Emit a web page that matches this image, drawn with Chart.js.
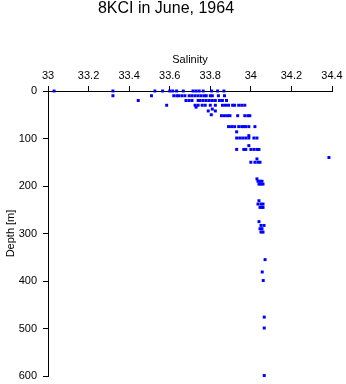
<!DOCTYPE html>
<html>
<head>
<meta charset="utf-8">
<script src="https://cdn.jsdelivr.net/npm/chart.js@4"></script>
<style>
  body { margin: 0; background: #fff; }
  #wrap { width: 346px; height: 384px; }
</style>
</head>
<body>
<div id="wrap"><canvas id="profile-chart"></canvas></div>
<script>
const TITLE = "8KCI in June, 1964";
const X_LABEL = "Salinity";
const Y_LABEL = "Depth [m]";

// Salinity ticks and depth ticks.
const salinityTicks = [33, 33.2, 33.4, 33.6, 33.8, 34, 34.2, 34.4];
const depthTicks = [0, 100, 200, 300, 400, 500, 600];

// Samples, row by row (depth in m, salinity).
const depths = [
    0, 0, 0, 0, 0, 0, 0, 0, 0, 0, 0, 0, 0, 0, 0,
    10, 10, 10, 10, 10, 10, 10, 10, 10, 10, 10, 10, 10, 10, 10, 10, 10, 10,
    20, 20, 20, 20, 20, 20, 20, 20, 20, 20, 20, 20, 20, 20,
    30, 30, 30, 30, 30, 30, 30, 30, 30, 30, 30, 30, 30, 30, 30, 34,
    38, 42, 42, 50,
    52, 52, 52, 52, 52, 52, 52, 52,
    75, 75, 75, 75, 75, 75, 75, 75, 75,
    86, 94,
    99, 99, 99, 99, 99, 99, 99,
    115,
    123, 123, 123, 123, 123, 123, 123,
    140, 143,
    150, 150, 150, 150,
    185, 190, 190, 190, 196, 196, 196,
    231, 238, 238, 238, 245, 245, 245,
    275, 283, 283, 290, 290, 297, 297,
    355, 381, 399, 476, 499, 599
];
const salinity = [
    33.03, 33.32, 33.527, 33.565, 33.6, 33.615, 33.634, 33.667, 33.715, 33.73, 33.745, 33.765, 33.807, 33.836, 33.867,
    33.32, 33.51, 33.62, 33.635, 33.645, 33.66, 33.675, 33.696, 33.71, 33.725, 33.74, 33.755, 33.77, 33.78, 33.8, 33.81, 33.84, 33.87,
    33.445, 33.68, 33.695, 33.71, 33.74, 33.75, 33.765, 33.78, 33.795, 33.81, 33.825, 33.845, 33.86, 33.88,
    33.585, 33.725, 33.74, 33.76, 33.775, 33.8, 33.825, 33.86, 33.875, 33.89, 33.91, 33.92, 33.94, 33.955, 33.97, 33.73,
    33.81, 33.79, 33.825, 33.805,
    33.855, 33.87, 33.885, 33.897, 33.935, 33.97, 33.985, 33.995,
    33.89, 33.905, 33.92, 33.94, 33.955, 33.965, 33.975, 33.99, 34.02,
    33.93, 33.99,
    33.93, 33.945, 33.96, 33.975, 33.99, 34.015, 34.03,
    33.99,
    33.93, 33.965, 33.975, 34.0, 34.015, 34.03, 34.04,
    34.385, 34.03,
    34.0, 34.02, 34.035, 34.045,
    34.03, 34.035, 34.045, 34.055, 34.04, 34.05, 34.06,
    34.04, 34.035, 34.05, 34.06, 34.045, 34.055, 34.06,
    34.04, 34.05, 34.065, 34.045, 34.055, 34.05, 34.06,
    34.07, 34.056, 34.061, 34.066, 34.066, 34.066
];

const FONT = "'Liberation Sans', Arial, sans-serif";

function PointsFrom(xs, ys) {
    // Pair up salinity and depth values as scatter points.
    return xs.map(function (x, i) { return { x: x, y: ys[i] }; });
}

new Chart(document.getElementById("profile-chart"), {
    type: "scatter",
    data: {
        datasets: [{
            data: PointsFrom(salinity, depths),
            clip: false,
            pointStyle: "rect",
            pointRadius: 2.1,
            pointBorderWidth: 0,
            pointBackgroundColor: "#0000ff",
            pointBorderColor: "#0000ff"
        }]
    },
    options: {
        responsive: true,
        maintainAspectRatio: false,
        animation: false,
        events: [],
        layout: { padding: { left: 0, right: 14, top: 0, bottom: 0 } },
        plugins: {
            legend: { display: false },
            tooltip: { enabled: false },
            title: {
                display: true,
                text: TITLE,
                color: "#000",
                font: { family: FONT, size: 16, weight: "normal", lineHeight: 1 },
                padding: { top: 1, bottom: 27 }
            }
        },
        scales: {
            x: {
                type: "linear",
                position: "top",
                min: 33,
                max: 34.4,
                afterBuildTicks: function (axis) {
                    axis.ticks = salinityTicks.map(function (v) { return { value: v }; });
                },
                afterFit: function (axis) { axis.height = 47; },
                ticks: {
                    color: "#000",
                    font: { family: FONT, size: 11 },
                    padding: 3,
                    maxRotation: 0,
                    callback: function (v) { return String(v); }
                },
                grid: { display: true, drawOnChartArea: false, drawTicks: true, tickLength: 5, color: "#000" },
                border: { display: true, color: "#000", width: 1 },
                title: {
                    display: true,
                    text: X_LABEL,
                    color: "#000",
                    font: { family: FONT, size: 11 },
                    padding: { top: 9, bottom: 0 }
                }
            },
            y: {
                type: "linear",
                reverse: true,
                min: 0,
                max: 600,
                afterBuildTicks: function (axis) {
                    axis.ticks = depthTicks.map(function (v) { return { value: v }; });
                },
                afterFit: function (axis) {
                    axis.width = 48;
                    axis.paddingBottom = 8;
                },
                ticks: {
                    color: "#000",
                    font: { family: FONT, size: 11 },
                    padding: 6
                },
                grid: { display: true, drawOnChartArea: false, drawTicks: true, tickLength: 5, color: "#000" },
                border: { display: true, color: "#000", width: 1 },
                title: {
                    display: true,
                    text: Y_LABEL,
                    color: "#000",
                    font: { family: FONT, size: 11 },
                    padding: { top: 4, bottom: 0 }
                }
            }
        }
    }
});
</script>
</body>
</html>
